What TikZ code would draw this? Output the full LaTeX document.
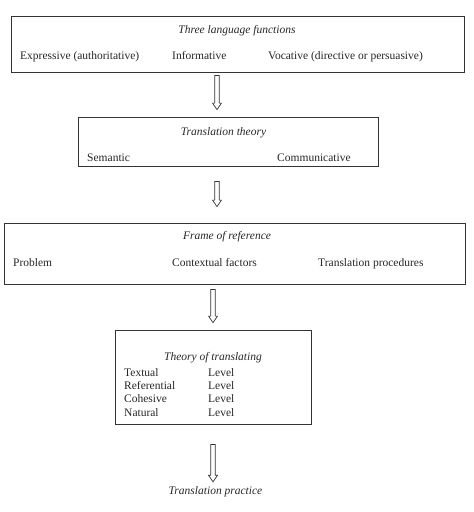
\documentclass[tikz,border=0pt]{standalone}
\usepackage{fontspec}
\setmainfont{Liberation Serif}
\usetikzlibrary{calc}
\begin{document}
\begin{tikzpicture}[x=1pt,y=-1pt,
  box/.style={draw=black!80, line width=0.8pt, inner sep=0pt},
  txt/.style={inner sep=0pt, anchor=base west, text=black!85, font=\fontsize{11.5}{13}\selectfont},
  ttl/.style={inner sep=0pt, anchor=base, text=black!85, font=\fontsize{11.5}{13}\selectfont\itshape},
  hollow/.style={draw=black!80, line width=0.7pt, to path={
    let \p1=(\tikztostart), \p2=(\tikztotarget) in
    (\x1-2.3pt,\y1) -- (\x1-2.3pt,\y2+6.5pt) -- (\x1-4.5pt,\y2+6.5pt) -- (\x1,\y2)
    -- (\x1+4.5pt,\y2+6.5pt) -- (\x1+2.3pt,\y2+6.5pt) -- (\x1+2.3pt,\y1) -- cycle}}]
\useasboundingbox (0,0) rectangle (474,512);
% boxes
\node[box, minimum width=453pt, minimum height=56pt] (b1) at (237.5,44) {};
\node[box, minimum width=300pt, minimum height=49pt] (b2) at (228,141.5) {};
\node[box, minimum width=461pt, minimum height=61pt] (b3) at (234.5,253.5) {};
\node[box, minimum width=196pt, minimum height=94pt] (b4) at (213,377) {};
% box 1
\node[ttl] (t1) at (237,33.5) {Three language functions};
\node[txt] (e1) at (20,59) {Expressive (authoritative)};
\node[txt] (i1) at (172,59) {Informative};
\node[txt] (v1) at (268,59) {Vocative (directive or persuasive)};
% box 2
\node[ttl] (t2) at (223.5,135) {Translation theory};
\node[txt] (s2) at (87,161) {Semantic};
\node[txt] (c2) at (277,161) {Communicative};
% box 3
\node[ttl] (t3) at (227,239) {Frame of reference};
\node[txt] (p3) at (13,266) {Problem};
\node[txt] (c3) at (172,266) {Contextual factors};
\node[txt] (tp3) at (318,266) {Translation procedures};
% box 4
\node[ttl] (t4) at (213,360) {Theory of translating};
\node[txt] (r1) at (124,376.5) {Textual};
\node[txt] (r2) at (124,389.5) {Referential};
\node[txt] (r3) at (124,402.5) {Cohesive};
\node[txt] (r4) at (124,416) {Natural};
\node[txt] (l1) at (208,376.5) {Level};
\node[txt] (l2) at (208,389.5) {Level};
\node[txt] (l3) at (208,402.5) {Level};
\node[txt] (l4) at (208,416) {Level};
% final
\node[ttl] (tp) at (215.5,494) {Translation practice};
% arrow x positions
\coordinate (ax1) at (217,0);
\coordinate (ax2) at (217,0);
\coordinate (ax3) at (213,0);
\coordinate (ax4) at (213,0);
% arrows
\draw[hollow] ([yshift=-3pt]b1.south -| ax1) to ([yshift=7pt]b2.north -| ax1);
\draw[hollow] ([yshift=-15pt]b2.south -| ax2) to ([yshift=16pt]b3.north -| ax2);
\draw[hollow] ([yshift=-5pt]b3.south -| ax3) to ([yshift=7pt]b4.north -| ax3);
\draw[hollow] ([yshift=-20pt]b4.south -| ax4) to ([yshift=4pt]tp.north -| ax4);
\end{tikzpicture}
\end{document}
